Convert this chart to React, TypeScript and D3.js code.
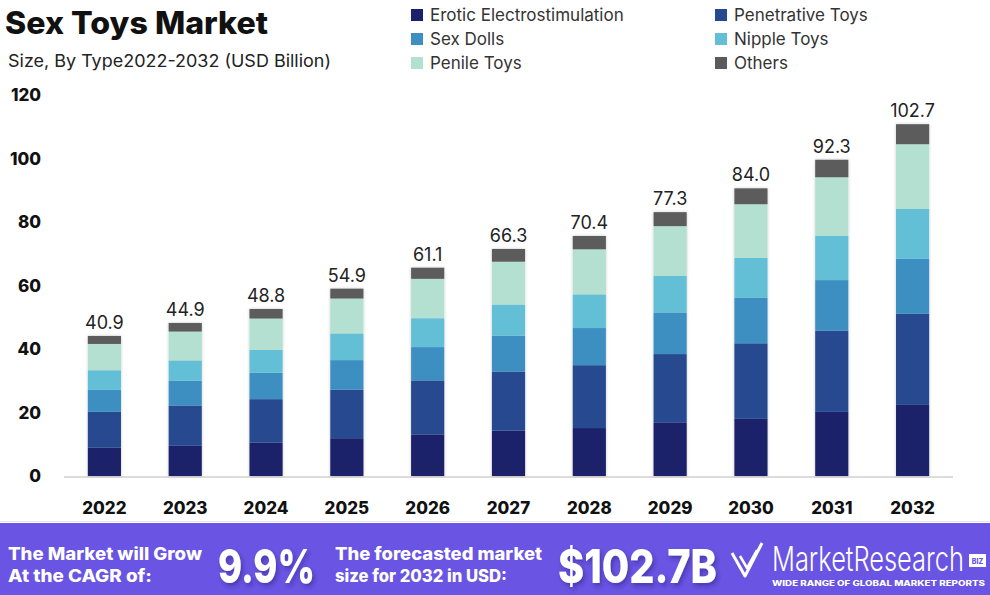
// Externals
import * as d3 from 'd3'
import { FC } from 'react'



const WIDTH = 990
const HEIGHT = 595
const MARGIN = { top: 95, right: 37, bottom: 119, left: 64 }
const FONT = 'Inter, "Noto Sans", sans-serif'

const YEARS = ['2022', '2023', '2024', '2025', '2026', '2027', '2028', '2029', '2030', '2031', '2032']
const TOTAL_LABELS = ['40.9', '44.9', '48.8', '54.9', '61.1', '66.3', '70.4', '77.3', '84.0', '92.3', '102.7']
const Y_TICKS = [0, 20, 40, 60, 80, 100, 120]

const SERIES = ['Erotic Electrostimulation', 'Penetrative Toys', 'Sex Dolls', 'Nipple Toys', 'Penile Toys', 'Others']
const COLORS = ['#1a206b', '#26498f', '#3d8fc2', '#62bfd6', '#b3e0d1', '#5b5b5b']

const EROTIC = [8.9, 9.5, 10.5, 11.9, 13.1, 14.3, 15.1, 16.9, 18.0, 20.2, 22.4]
const PENETRATIVE = [11.3, 12.7, 13.7, 15.3, 17.0, 18.6, 19.8, 21.5, 23.8, 25.6, 28.7]
const SEX_DOLLS = [7.0, 7.8, 8.3, 9.3, 10.5, 11.3, 11.7, 13.1, 14.3, 15.9, 17.3]
const NIPPLE = [6.1, 6.4, 7.2, 8.4, 9.1, 9.8, 10.6, 11.5, 12.6, 13.9, 15.7]
const PENILE = [8.3, 9.1, 9.9, 11.0, 12.4, 13.5, 14.2, 15.7, 16.9, 18.5, 20.4]
const OTHERS = [2.5, 2.7, 3.0, 3.1, 3.5, 4.0, 4.2, 4.4, 5.0, 5.5, 6.3]



const App: FC = () => {
  const boundsWidth = WIDTH - MARGIN.left - MARGIN.right
  const y0 = HEIGHT - MARGIN.bottom

  const table = YEARS.map((year, i) => ({
    year,
    [SERIES[0]]: EROTIC[i],
    [SERIES[1]]: PENETRATIVE[i],
    [SERIES[2]]: SEX_DOLLS[i],
    [SERIES[3]]: NIPPLE[i],
    [SERIES[4]]: PENILE[i],
    [SERIES[5]]: OTHERS[i],
  }))

  const stacked = d3.stack<any>().keys(SERIES)(table)

  const xScale = d3
    .scaleBand()
    .domain(YEARS)
    .range([MARGIN.left, MARGIN.left + boundsWidth])
    .paddingInner(0.59)
    .paddingOuter(0.295)

  const yScale = d3.scaleLinear().domain([0, 120]).range([y0, MARGIN.top])
  const color = d3.scaleOrdinal<string>().domain(SERIES).range(COLORS)

  // top of each stack, for the total labels
  const tops = YEARS.map((_, i) => stacked[stacked.length - 1][i][1])

  return (
    <svg
      width={ WIDTH }
      height={ HEIGHT }
      style={ { position: 'absolute', left: 0, top: 0, background: '#fff' } }
      fontFamily={ FONT }
    >
      <defs>
        <filter id='barShadow' x='-30%' y='-10%' width='160%' height='120%'>
          <feDropShadow dx='0' dy='0' stdDeviation='1.5' floodColor='#000' floodOpacity='0.22' />
        </filter>
        <filter id='txtShadow' x='-10%' y='-20%' width='130%' height='150%'>
          <feDropShadow dx='2' dy='3' stdDeviation='2' floodColor='#2a1a80' floodOpacity='0.5' />
        </filter>
      </defs>

      {/* Title */}
      <text x={ 5 } y={ 34 } fontSize={ 31 } fontWeight={ 800 } fill='#111' textLength={ 263 } lengthAdjust='spacingAndGlyphs'>
        Sex Toys Market
      </text>
      <text x={ 8 } y={ 67 } fontSize={ 17 } fill='#222' textLength={ 323 } lengthAdjust='spacingAndGlyphs'>
        Size, By Type2022-2032 (USD Billion)
      </text>

      {/* Legend */}
      { SERIES.map((s, i) => {
        const col = i % 2
        const row = Math.floor(i / 2)
        const lx = col === 0 ? 411 : 715
        const ly = 15 + row * 24
        return (
          <g key={ s }>
            <rect x={ lx } y={ ly - 6 } width={ 12 } height={ 12 } fill={ color(s) } />
            <text x={ lx + 19 } y={ ly } dominantBaseline='central' fontSize={ 17 } fill='#333'>
              { s }
            </text>
          </g>
        )
      }) }

      {/* Y tick labels */}
      { Y_TICKS.map((t) => (
        <text
          key={ t }
          x={ 41 }
          y={ yScale(t) }
          textAnchor='end'
          dominantBaseline='central'
          fontSize={ 17 }
          fontWeight={ 800 }
          fill='#111'
        >
          { t }
        </text>
      )) }

      {/* Baseline */}
      <line x1={ MARGIN.left } x2={ MARGIN.left + boundsWidth } y1={ y0 + 1 } y2={ y0 + 1 } stroke='#dcdcdc' strokeWidth={ 2 } />

      {/* Bars */}
      <g filter='url(#barShadow)'>
        { YEARS.map((year, i) => (
          <g key={ year }>
            { stacked.map((layer) => (
              <rect
                key={ layer.key }
                x={ xScale(year) }
                y={ yScale(layer[i][1]) }
                width={ xScale.bandwidth() }
                height={ yScale(layer[i][0]) - yScale(layer[i][1]) }
                fill={ color(layer.key) }
              />
            )) }
          </g>
        )) }
      </g>

      {/* Totals */}
      { YEARS.map((year, i) => (
        <text
          key={ year }
          x={ (xScale(year) as number) + xScale.bandwidth() / 2 }
          y={ yScale(tops[i]) - 7 }
          textAnchor='middle'
          fontSize={ 18 }
          fill='#222'
        >
          { TOTAL_LABELS[i] }
        </text>
      )) }

      {/* X labels */}
      { YEARS.map((year) => (
        <text
          key={ year }
          x={ (xScale(year) as number) + xScale.bandwidth() / 2 }
          y={ 508 }
          textAnchor='middle'
          dominantBaseline='central'
          fontSize={ 17 }
          fontWeight={ 800 }
          fill='#111'
        >
          { year }
        </text>
      )) }

      {/* Banner */}
      <line x1={ 0 } x2={ WIDTH } y1={ 521.5 } y2={ 521.5 } stroke='#e4e4e4' strokeWidth={ 1 } />
      <rect x={ 0 } y={ 523 } width={ WIDTH } height={ 72 } fill='#6a54e3' />
      <g fill='#fff' fontWeight={ 800 }>
        <text x={ 8 } y={ 560 } fontSize={ 17 } textLength={ 194 } lengthAdjust='spacingAndGlyphs'>The Market will Grow</text>
        <text x={ 8 } y={ 582 } fontSize={ 17 } textLength={ 144 } lengthAdjust='spacingAndGlyphs'>At the CAGR of:</text>
        <text x={ 218 } y={ 583 } fontSize={ 47 } filter='url(#txtShadow)' textLength={ 97 } lengthAdjust='spacingAndGlyphs'>9.9%</text>
        <text x={ 335 } y={ 560 } fontSize={ 17 } textLength={ 207 } lengthAdjust='spacingAndGlyphs'>The forecasted market</text>
        <text x={ 335 } y={ 582 } fontSize={ 17 } textLength={ 172 } lengthAdjust='spacingAndGlyphs'>size for 2032 in USD:</text>
        <text x={ 558 } y={ 583 } fontSize={ 47 } filter='url(#txtShadow)' textLength={ 159 } lengthAdjust='spacingAndGlyphs'>$102.7B</text>
      </g>

      {/* Logo */}
      <g fill='none' stroke='#fff' strokeWidth={ 3 } strokeLinejoin='round'>
        <path d='M732,553 L745,576 L762,543' />
        <path d='M740,556 L747,568 L757,550' strokeWidth={ 2.5 } />
      </g>
      <text x={ 772 } y={ 571 } fontSize={ 34 } fill='#fff' fontWeight={ 300 } textLength={ 192 } lengthAdjust='spacingAndGlyphs'>
        MarketResearch
      </text>
      <rect x={ 969 } y={ 554 } width={ 17 } height={ 13 } fill='#fff' />
      <text x={ 977.5 } y={ 561 } fontSize={ 7 } fontWeight={ 800 } fill='#6a54e3' textAnchor='middle' dominantBaseline='central'>BIZ</text>
      <text x={ 772 } y={ 586 } fontSize={ 7 } fontWeight={ 800 } fill='#fff' textLength={ 213 } lengthAdjust='spacingAndGlyphs'>
        WIDE RANGE OF GLOBAL MARKET REPORTS
      </text>
    </svg>
  )
}


export default App
